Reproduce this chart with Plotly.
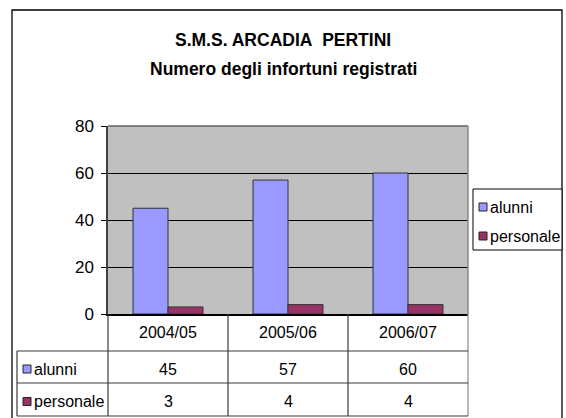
import plotly.graph_objects as go

# ---- data ----
categories = ["2004/05", "2005/06", "2006/07"]
series_names = ["alunni", "personale"]
alunni = [45, 57, 60]
personale = [3, 4, 4]
series_values = [alunni, personale]
series_colors = ["#9999FF", "#993366"]
y_ticks = [0, 20, 40, 60, 80]
title_lines = ["S.M.S. ARCADIA\u00a0\u00a0PERTINI", "Numero degli infortuni registrati"]

FONT = "Liberation Sans Narrow, Arial Narrow, Liberation Sans, Arial, sans-serif"
FS = 16

# plot area in pixels
W_FIG, H_FIG = 566, 418
L, R, T, B = 108, 468, 126, 314
PW, PH = R - L, B - T


def px(x):
    return (x - L) / PW


def py(y):
    return (B - y) / PH


fig = go.Figure()
for name, vals, col in zip(series_names, series_values, series_colors):
    fig.add_trace(go.Bar(
        x=categories, y=vals, name=name,
        marker=dict(color=col, line=dict(color="#333333", width=1)),
        showlegend=False,
    ))

shapes = []
annotations = []

# outer frame
shapes.append(dict(type="rect", xref="paper", yref="paper",
                   x0=px(12), x1=px(562), y0=py(10), y1=py(425),
                   line=dict(color="#000000", width=1.3), layer="below"))
# plot top and right borders
shapes.append(dict(type="line", xref="paper", yref="paper",
                   x0=0, x1=1, y0=1, y1=1, line=dict(color="#606060", width=1.5)))
shapes.append(dict(type="line", xref="paper", yref="paper",
                   x0=1, x1=1, y0=0, y1=1, line=dict(color="#8a8a8a", width=1.5)))

# ---- data table below the axis ----
n = len(categories)
row_y = [314, 351, 383, 416]
table_col = "#3a3a3a"
for i in range(n + 1):
    shapes.append(dict(type="line", xref="paper", yref="paper",
                       x0=i / n, x1=i / n, y0=py(row_y[0]), y1=py(row_y[-1]),
                       line=dict(color=table_col if i < n else "#8a8a8a", width=1.2)))
shapes.append(dict(type="line", xref="paper", yref="paper",
                   x0=px(17), x1=px(17), y0=py(row_y[1]), y1=py(row_y[-1]),
                   line=dict(color=table_col, width=1.2)))
for yy in row_y[1:]:
    shapes.append(dict(type="line", xref="paper", yref="paper",
                       x0=px(17), x1=1, y0=py(yy), y1=py(yy),
                       line=dict(color=table_col, width=1.2)))

# category labels
for c in categories:
    annotations.append(dict(x=c, xref="x", y=py((row_y[0] + row_y[1]) / 2), yref="paper",
                            text=c, showarrow=False, xanchor="center", yanchor="middle",
                            font=dict(family=FONT, size=FS, color="#000")))
# value rows
for r, (name, vals, col) in enumerate(zip(series_names, series_values, series_colors)):
    yc = (row_y[r + 1] + row_y[r + 2]) / 2 + 2
    shapes.append(dict(type="rect", xref="paper", yref="paper",
                       x0=px(23), x1=px(31), y0=py(yc - 4), y1=py(yc + 4),
                       fillcolor=col, line=dict(color="#222", width=1)))
    annotations.append(dict(x=px(32), xref="paper", y=py(yc), yref="paper",
                            text=name, showarrow=False, xanchor="left", yanchor="middle",
                            font=dict(family=FONT, size=FS, color="#000")))
    for c, v in zip(categories, vals):
        annotations.append(dict(x=c, xref="x", y=py(yc), yref="paper",
                                text=str(v), showarrow=False, xanchor="center", yanchor="middle",
                                font=dict(family=FONT, size=FS, color="#000")))

# ---- custom legend ----
shapes.append(dict(type="rect", xref="paper", yref="paper",
                   x0=px(473), x1=px(562), y0=py(189), y1=py(250),
                   fillcolor="#ffffff", line=dict(color="#000", width=1)))
for k, (name, col) in enumerate(zip(series_names, series_colors)):
    yc = 207 + k * 29
    shapes.append(dict(type="rect", xref="paper", yref="paper",
                       x0=px(479), x1=px(487), y0=py(yc - 4), y1=py(yc + 4),
                       fillcolor=col, line=dict(color="#222", width=1)))
    annotations.append(dict(x=px(488), xref="paper", y=py(yc), yref="paper",
                            text=name, showarrow=False, xanchor="left", yanchor="middle",
                            font=dict(family=FONT, size=FS, color="#000")))

# ---- title ----
for k, line in enumerate(title_lines):
    annotations.append(dict(x=px(283), xref="paper", y=py(40 + k * 29), yref="paper",
                            text="<b>" + line + "</b>", showarrow=False,
                            xanchor="center", yanchor="middle",
                            font=dict(family=FONT, size=17.5, color="#000")))

fig.update_layout(
    width=W_FIG, height=H_FIG,
    margin=dict(l=L, r=W_FIG - R, t=T, b=H_FIG - B, pad=0),
    paper_bgcolor="#ffffff", plot_bgcolor="#C0C0C0",
    barmode="group", bargap=0.4167, bargroupgap=0,
    font=dict(family=FONT, size=FS, color="#000"),
    shapes=shapes, annotations=annotations,
    xaxis=dict(showticklabels=False, ticks="", showgrid=False, zeroline=False,
               showline=True, linecolor="#000", linewidth=1.5, fixedrange=True),
    yaxis=dict(range=[0, 80], tickvals=y_ticks, ticks="outside", ticklen=5,
               tickcolor="#000", showgrid=True, gridcolor="#000", gridwidth=1,
               zeroline=False, showline=True, linecolor="#404040", linewidth=1.5,
               ticklabelstandoff=4, tickfont=dict(family=FONT, size=17),
               fixedrange=True),
)

fig.write_html("out.html",
               config={"displayModeBar": False},
               post_script="document.body.style.margin='0';document.body.style.overflow='hidden';")
